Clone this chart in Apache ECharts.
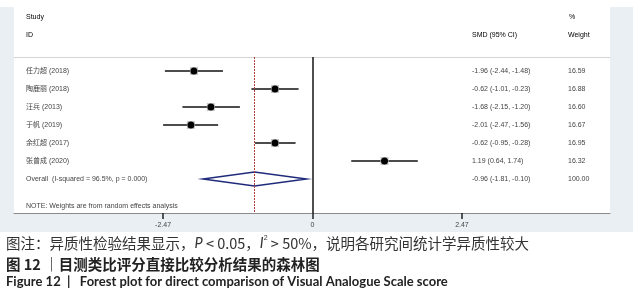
<!DOCTYPE html>
<html>
<head>
<meta charset="utf-8">
<script src="https://cdn.jsdelivr.net/npm/echarts@6/dist/echarts.min.js"></script>
<style>
  html, body { margin: 0; padding: 0; background: #fff; }
  #chart { width: 633px; height: 300px; }
</style>
</head>
<body>
<div id="chart"></div>
<script>
// 森林图数据
const studies = ['任力超 (2018)', '陶鹿丽 (2018)', '汪兵 (2013)', '于帆 (2019)', '余红超 (2017)', '张曾成 (2020)']
const smd = [-1.96, -0.62, -1.68, -2.01, -0.62, 1.19]
const lower = [-2.44, -1.01, -2.15, -2.47, -0.95, 0.64]
const upper = [-1.48, -0.23, -1.20, -1.56, -0.28, 1.74]
const weights = ['16.59', '16.88', '16.60', '16.67', '16.95', '16.32']
const overallLabel = 'Overall  (I-squared = 96.5%, p = 0.000)'
const overallSmd = -0.96
const overallLower = -1.81
const overallUpper = -0.10
const overallWeight = '100.00'
const noteText = 'NOTE: Weights are from random effects analysis'
const tickValues = [-2.47, 0, 2.47]
const tickLabels = ['-2.47', '0', '2.47']

const fmt = (v) => v.toFixed(2)
const rowOf = (i) => i + 1
const overallRow = studies.length + 1
const noteRow = studies.length + 2.5

const rowLabels = {}
const ciLabels = {}
studies.forEach((s, i) => {
  rowLabels[rowOf(i)] = s
  ciLabels[rowOf(i)] = `{a|${fmt(smd[i])} (${fmt(lower[i])}, ${fmt(upper[i])})}{b|${weights[i]}}`
})
rowLabels[overallRow] = overallLabel
ciLabels[overallRow] = `{a|${fmt(overallSmd)} (${fmt(overallLower)}, ${fmt(overallUpper)})}{b|${overallWeight}}`
rowLabels[noteRow] = noteText

const rowValues = Object.keys(rowLabels).map(Number)

const latin = 'Arial, "Liberation Sans", "Noto Sans CJK SC", sans-serif'
const small = { fontSize: 7, color: '#444', fontFamily: latin }

const chart = echarts.init(document.getElementById('chart'))
const yMin = 1 - 14 / 18
const yMax = yMin + 156 / 18

const option = {
  animation: false,
  backgroundColor: '#fff',
  grid: { left: 14, right: 23, top: 57, height: 156 },
  graphic: [
    // 浅色底和白色面板
    { type: 'rect', z: -10, shape: { x: 0, y: 7, width: 633, height: 225 }, style: { fill: '#e9eff2' } },
    { type: 'rect', z: -9, shape: { x: 14, y: 7, width: 596, height: 206 }, style: { fill: '#fff' } },
    // 表头
    { type: 'text', x: 26, y: 17, style: Object.assign({ text: 'Study', verticalAlign: 'middle' }, small) },
    { type: 'text', x: 26, y: 35, style: Object.assign({ text: 'ID', verticalAlign: 'middle' }, small) },
    { type: 'text', x: 569, y: 17, style: Object.assign({ text: '%', verticalAlign: 'middle' }, small) },
    { type: 'text', x: 472, y: 35, style: Object.assign({ text: 'SMD (95% CI)', verticalAlign: 'middle' }, small) },
    { type: 'text', x: 568, y: 35, style: Object.assign({ text: 'Weight', verticalAlign: 'middle' }, small) },
    // 图注
    {
      type: 'text', x: 6, y: 243,
      style: {
        text: '图注：异质性检验结果显示，{i|P} < 0.05，{i|I}{sup|2} > 50%，说明各研究间统计学异质性较大',
        fontSize: 14.5, fill: '#333', verticalAlign: 'middle',
        fontFamily: '"Noto Sans CJK SC", sans-serif',
        rich: {
          i: { fontStyle: 'italic', fontSize: 14.5, fontFamily: 'Lato, sans-serif' },
          sup: { fontSize: 7, verticalAlign: 'top', padding: [0, 0, 9, 0] }
        }
      }
    },
    {
      type: 'text', x: 6, y: 264,
      style: {
        text: '图 12 ｜目测类比评分直接比较分析结果的森林图',
        fontSize: 14.5, fontWeight: 'bold', fill: '#222', verticalAlign: 'middle',
        fontFamily: '"Noto Sans CJK SC", sans-serif'
      }
    },
    {
      type: 'text', x: 6, y: 282,
      style: {
        text: 'Figure 12  |   Forest plot for direct comparison of Visual Analogue Scale score',
        fontSize: 13, fontWeight: 'bold', fill: '#222', verticalAlign: 'middle',
        fontFamily: 'Lato, sans-serif'
      }
    }
  ],
  xAxis: [
    {
      type: 'value',
      min: -4.934,
      max: 4.917,
      position: 'bottom',
      splitLine: { show: false },
      axisLine: { show: true, onZero: false, lineStyle: { color: '#8a8a8a', width: 1 } },
      axisTick: { show: true, customValues: tickValues, length: 6, lineStyle: { color: '#222', width: 1.5 } },
      axisLabel: {
        customValues: tickValues,
        margin: 9,
        fontSize: 7,
        color: '#444',
        fontFamily: latin,
        formatter: (v) => tickLabels[tickValues.indexOf(v)] || ''
      }
    },
    {
      type: 'value',
      min: -4.934,
      max: 4.917,
      position: 'top',
      splitLine: { show: false },
      axisLine: { show: true, onZero: false, lineStyle: { color: '#d4d4d4', width: 1 } },
      axisTick: { show: false },
      axisLabel: { show: false }
    }
  ],
  yAxis: [
    {
      type: 'value',
      inverse: true,
      min: yMin,
      max: yMax,
      position: 'left',
      splitLine: { show: false },
      axisLine: { show: false },
      axisTick: { show: false },
      axisLabel: {
        customValues: rowValues,
        align: 'left',
        margin: -12,
        fontSize: 7,
        color: '#444',
        fontFamily: latin,
        formatter: (v) => rowLabels[v] || ''
      }
    },
    {
      type: 'value',
      inverse: true,
      min: yMin,
      max: yMax,
      position: 'right',
      splitLine: { show: false },
      axisLine: { show: false },
      axisTick: { show: false },
      axisLabel: {
        customValues: rowValues,
        align: 'left',
        margin: -138,
        fontSize: 7,
        color: '#444',
        fontFamily: latin,
        formatter: (v) => ciLabels[v] || '',
        rich: {
          a: { width: 96, fontSize: 7, color: '#444', fontFamily: latin },
          b: { fontSize: 7, color: '#444', fontFamily: latin }
        }
      }
    }
  ],
  series: [
    {
      // 置信区间
      type: 'custom',
      silent: true,
      data: studies.map((s, i) => [lower[i], upper[i], rowOf(i)]),
      renderItem: (params, api) => {
        const p1 = api.coord([api.value(0), api.value(2)])
        const p2 = api.coord([api.value(1), api.value(2)])
        return {
          type: 'line',
          shape: { x1: p1[0], y1: p1[1], x2: p2[0], y2: p2[1] },
          style: { stroke: '#111', lineWidth: 1.3 }
        }
      },
      markLine: {
        silent: true,
        symbol: 'none',
        label: { show: false },
        data: [
          { xAxis: 0, lineStyle: { color: '#222', width: 1.6, type: 'solid' } },
          { xAxis: overallSmd, lineStyle: { color: '#b0413e', width: 1, type: [2, 1] } }
        ]
      }
    },
    {
      // 权重方块
      type: 'scatter',
      silent: true,
      symbol: 'rect',
      symbolSize: 8,
      itemStyle: { color: '#c8c8c8', opacity: 1 },
      data: studies.map((s, i) => [smd[i], rowOf(i)])
    },
    {
      type: 'scatter',
      silent: true,
      symbol: 'circle',
      symbolSize: 7,
      itemStyle: { color: '#000', opacity: 1 },
      data: studies.map((s, i) => [smd[i], rowOf(i)])
    },
    {
      // 合并效应菱形
      type: 'custom',
      silent: true,
      data: [[overallLower, overallSmd, overallUpper, overallRow]],
      renderItem: (params, api) => {
        const l = api.coord([api.value(0), api.value(3)])
        const m = api.coord([api.value(1), api.value(3)])
        const r = api.coord([api.value(2), api.value(3)])
        return {
          type: 'polygon',
          shape: { points: [l, [m[0], m[1] - 7], r, [m[0], m[1] + 7]] },
          style: { fill: '#fff', stroke: '#1f2a7a', lineWidth: 1.5 }
        }
      }
    }
  ]
}
chart.setOption(option)
</script>
</body>
</html>
